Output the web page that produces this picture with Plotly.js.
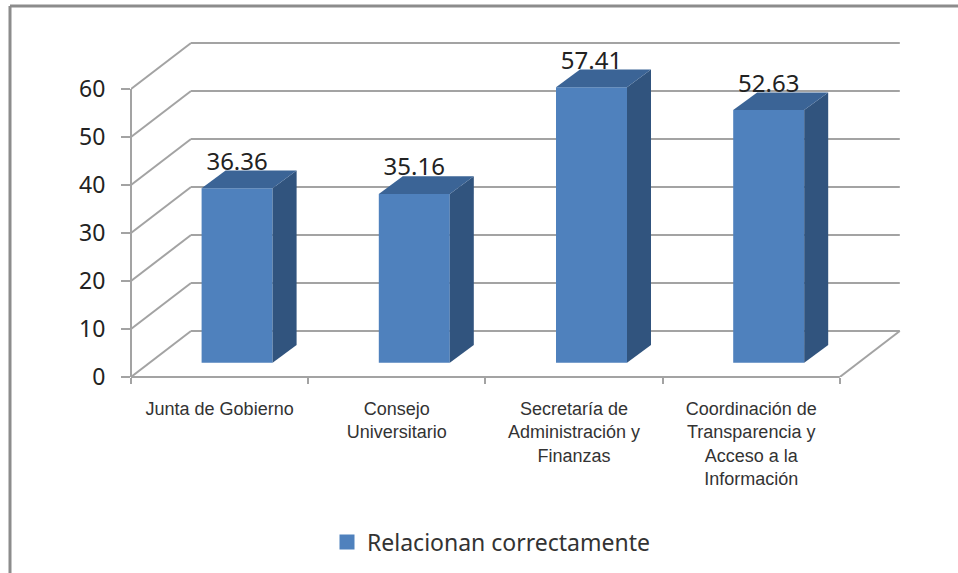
<!DOCTYPE html>
<html><head><meta charset="utf-8">
<script src="https://cdn.plot.ly/plotly-3.0.1.min.js"></script>
<style>html,body{margin:0;padding:0;background:#fff;overflow:hidden}#c{width:958px;height:573px}</style>
</head><body><div id="c"></div>
<script>
const categories = ["Junta de Gobierno","Consejo<br>Universitario","Secretaría de<br>Administración y<br>Finanzas","Coordinación de<br>Transparencia y<br>Acceso a la<br>Información"];
const seriesName = "Relacionan correctamente";
const values = [36.36,35.16,57.41,52.63];
const valueLabels = ["36.36","35.16","57.41","52.63"];
const yTicks = [0,10,20,30,40,50,60];

// page geometry
const W=958,H=573,mL=131,mR=57,mT=40,mB=196;
const pw=W-mL-mR, ph=H-mT-mB;
const pxX=177.2, pxY=4.8;
const n=categories.length;
const xs=categories.map((_,i)=>i);
const xMin=-0.5, xMax=xMin+pw/pxX, yMax=ph/pxY;
const wallDX=60/pxX, wallDY=46/pxY;         // depth of the floor
const barW=71/pxX;
const barDX=24/pxX, barDY=17.6/pxY;         // depth of each bar
const shiftX=17.5/pxX, shiftY=14.3/pxY;     // bars sit inside the floor
const grid={color:'#a3a3a3',width:2};
const ax=v=>(v-mL)/pw, ay=v=>(H-mB-v)/ph;

const shapes=[];
const line=(x0,y0,x1,y1,l,xref,yref)=>shapes.push({type:'line',layer:'below',xref:xref||'x',yref:yref||'y',x0,y0,x1,y1,line:l||grid});
yTicks.forEach(v=>{
  line(xMin,v,xMin+wallDX,v+wallDY);
  line(xMin+wallDX,v+wallDY,n-0.5+wallDX,v+wallDY);
});
line(n-0.5,0,n-0.5+wallDX,wallDY);
line(0,0,0,60,grid,'paper','y');
line(xMin,0,n-0.5,0,grid,'x','paper');
// outer frame of the picture
const frame={color:'#8c8c8c',width:3};
line(ax(10),ay(H),ax(10),ay(6),frame,'paper','paper');
line(ax(10),ay(6),ax(W),ay(6),frame,'paper','paper');

const cx=xs.map(i=>i+shiftX);
const traces=[{
  type:'bar',x:cx,y:values,base:values.map(()=>shiftY),width:barW,
  marker:{color:'#4f81bd'},showlegend:false,hoverinfo:'x+y'
}];
values.forEach((v,i)=>{
  const l=cx[i]-barW/2,r=cx[i]+barW/2,b=shiftY,t=v+shiftY;
  traces.push({type:'scatter',mode:'lines',fill:'toself',fillcolor:'#31547e',line:{width:0},showlegend:false,hoverinfo:'skip',
    x:[r,r+barDX,r+barDX,r,r],y:[b,b+barDY,t+barDY,t,b]});
  traces.push({type:'scatter',mode:'lines',fill:'toself',fillcolor:'#3b6496',line:{width:0},showlegend:false,hoverinfo:'skip',
    x:[l,r,r+barDX,l+barDX,l],y:[t,t,t+barDY,t+barDY,t]});
});
traces.push({type:'scatter',mode:'text',x:cx,y:values.map(v=>v+shiftY+24.5/pxY),text:valueLabels,
  textposition:'middle center',textfont:{family:'Noto Sans',size:24,color:'#222'},showlegend:false,hoverinfo:'skip',cliponaxis:false});
traces.push({type:'scatter',mode:'markers',x:[null],y:[null],name:seriesName,
  marker:{symbol:'square',size:15,color:'#4f81bd'},showlegend:true});

const layout={
  width:W,height:H,paper_bgcolor:'#fff',plot_bgcolor:'rgba(0,0,0,0)',
  margin:{l:mL,r:mR,t:mT,b:mB,pad:0,autoexpand:false},
  showlegend:true,
  legend:{x:ax(327),y:ay(542),xanchor:'left',yanchor:'middle',bgcolor:'rgba(0,0,0,0)',font:{family:'Noto Sans',size:23,color:'#333'}},
  xaxis:{range:[xMin,xMax],tickmode:'array',tickvals:xs,ticktext:categories,ticks:'',ticklabelstandoff:19,
    showgrid:false,zeroline:false,showline:false,tickfont:{family:'Liberation Sans',size:18,color:'#333'},tickangle:0,
    minor:{tickmode:'array',tickvals:Array.from({length:n+1},(_,i)=>i-0.5),ticks:'outside',ticklen:6,tickwidth:2,tickcolor:'#a3a3a3',showgrid:false}},
  yaxis:{range:[0,yMax],tickmode:'array',tickvals:yTicks,ticks:'outside',ticklen:9,tickwidth:2,tickcolor:'#a3a3a3',
    ticklabelstandoff:11,showgrid:false,zeroline:false,showline:false,tickfont:{family:'Noto Sans',size:23,color:'#222'}},
  shapes
};
Plotly.newPlot('c',traces,layout,{displayModeBar:false,responsive:false});
</script></body></html>
